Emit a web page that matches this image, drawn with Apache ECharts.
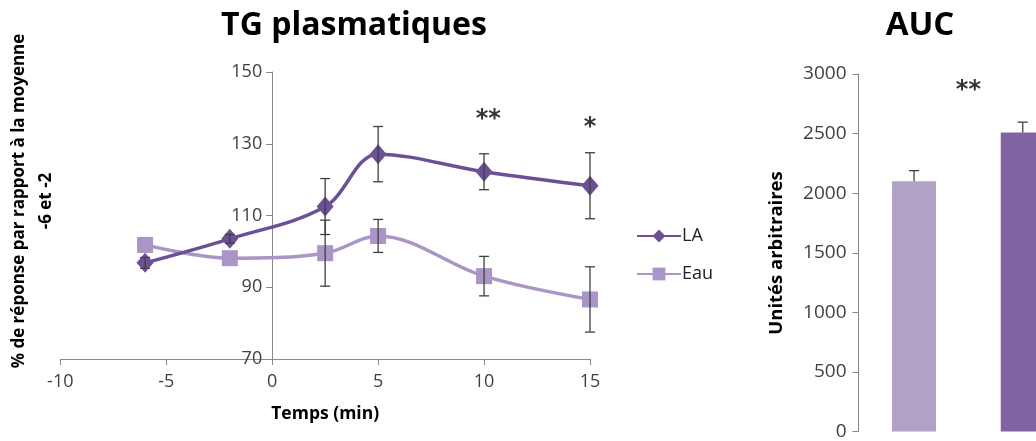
<!DOCTYPE html>
<html>
<head>
<meta charset="utf-8">
<script src="https://cdn.jsdelivr.net/npm/echarts@6/dist/echarts.min.js"></script>
<style>
  html, body { margin: 0; padding: 0; background: #fff; }
  #chart { width: 1036px; height: 441px; }
</style>
</head>
<body>
<div id="chart"></div>
<script>
// temps (min)
const times = [-6, -2, 2.5, 5, 10, 15]
// LA : moyenne et erreur
const laMean = [96.8, 103.5, 112.5, 127.1, 122.2, 118.3]
const laErr = [1.5, 1.2, 7.8, 7.7, 5.0, 9.2]
// Eau : moyenne et erreur
const eauMean = [101.8, 98.1, 99.5, 104.3, 93.1, 86.6]
const eauErr = [0, 0, 9.2, 4.6, 5.5, 9.1]
// AUC (position 1 = Eau, 2 = LA)
const aucGroups = ['Eau', 'LA']
const aucPos = [1, 2]
const aucMean = [2099, 2509]
const aucErr = [90, 87]
// étoiles de significativité
const starsLine = [[10.2, 136.7, '**'], [15, 134.5, '*']]
const starsAuc = [[1.5, 2860, '**']]

const laColor = '#6c5096'
const eauColor = '#a995c6'
const barColors = ['#b1a1c7', '#8064a2']
const errColor = '#404040'
const font = 'Open Sans'

let chart = echarts.init(document.getElementById('chart'))

// barres d'erreur
function errBars(caps, upOnly) {
  return function (params, api) {
    let x = api.value(0)
    let y = api.value(1)
    let e = api.value(2)
    if (!e) return
    let top = api.coord([x, y + e])
    let bot = api.coord([x, upOnly ? y : y - e])
    let st = { stroke: errColor, lineWidth: 1.3 }
    let c = []
    c.push({ type: 'line', shape: { x1: top[0], y1: top[1], x2: bot[0], y2: bot[1] }, style: st })
    c.push({ type: 'line', shape: { x1: top[0] - caps, y1: top[1], x2: top[0] + caps, y2: top[1] }, style: st })
    if (!upOnly) {
      c.push({ type: 'line', shape: { x1: bot[0] - caps, y1: bot[1], x2: bot[0] + caps, y2: bot[1] }, style: st })
    }
    return { type: 'group', children: c }
  }
}

const axisLineStyle = { color: '#888888', width: 1 }

let options = {
  animation: false,
  textStyle: { fontFamily: font },
  graphic: [
    { type: 'text', x: 354, y: 26, style: { text: 'TG plasmatiques', font: 'bold 32px "Open Sans"', fill: '#000', textAlign: 'center', textVerticalAlign: 'middle' } },
    { type: 'text', x: 920, y: 26, style: { text: 'AUC', font: 'bold 33px "Open Sans"', fill: '#000', textAlign: 'center', textVerticalAlign: 'middle' } },
    { type: 'text', x: 33, y: 201, rotation: Math.PI / 2, style: { text: '% de réponse par rapport à la moyenne\n-6 et -2', font: 'bold 17px "Open Sans"', lineHeight: 27, fill: '#000', textAlign: 'center', textVerticalAlign: 'middle' } },
    { type: 'text', x: 777, y: 253, rotation: Math.PI / 2, style: { text: 'Unités arbitraires', font: 'bold 18.5px "Open Sans"', fill: '#000', textAlign: 'center', textVerticalAlign: 'middle' } }
  ],
  legend: {
    orient: 'vertical',
    left: 631,
    top: 222,
    itemGap: 20,
    itemWidth: 44,
    itemHeight: 16,
    textStyle: { color: '#222', fontSize: 18, fontFamily: font, padding: [0, 0, 0, -4] },
    data: ['LA', 'Eau']
  },
  grid: [
    { left: 60.3, top: 72, width: 529.7, height: 287 },
    // la grille est coupée au bord droit de l'image
    { left: 858.5, top: 74, right: 0, height: 358.7 }
  ],
  xAxis: [
    {
      gridIndex: 0, type: 'value', min: -10, max: 15, interval: 5,
      name: 'Temps (min)', nameLocation: 'middle', nameGap: 46,
      nameTextStyle: { fontSize: 17.5, fontWeight: 'bold', color: '#000', fontFamily: font },
      axisLine: { show: true, onZero: false, lineStyle: axisLineStyle },
      axisTick: { show: true, inside: false, length: 6, lineStyle: axisLineStyle },
      axisLabel: { margin: 14, color: '#404040', fontSize: 18, fontFamily: font },
      splitLine: { show: false }
    },
    {
      gridIndex: 1, type: 'value', min: 0.489, max: 0.489 + 177.5 / 108.7, show: false
    }
  ],
  yAxis: [
    {
      gridIndex: 0, type: 'value', min: 70, max: 150, interval: 20,
      offset: -211.9,
      axisLine: { show: true, onZero: false, lineStyle: axisLineStyle },
      axisTick: { show: true, inside: false, length: 6, lineStyle: axisLineStyle },
      axisLabel: { margin: 10, color: '#404040', fontSize: 18, fontFamily: font },
      splitLine: { show: false }
    },
    {
      gridIndex: 1, type: 'value', min: 0, max: 3000, interval: 500,
      axisLine: { show: true, lineStyle: axisLineStyle },
      axisTick: { show: true, inside: false, length: 6, lineStyle: axisLineStyle },
      axisLabel: { margin: 12, color: '#404040', fontSize: 19, fontFamily: font, formatter: v => String(v) },
      splitLine: { show: false }
    }
  ],
  series: [
    {
      name: 'Eau', type: 'line', xAxisIndex: 0, yAxisIndex: 0,
      data: times.map((t, i) => [t, eauMean[i]]),
      smooth: 0.35,
      symbol: 'rect', symbolSize: 16,
      lineStyle: { color: eauColor, width: 3.5 },
      itemStyle: { color: eauColor },
      z: 3
    },
    {
      name: 'LA', type: 'line', xAxisIndex: 0, yAxisIndex: 0,
      data: times.map((t, i) => [t, laMean[i]]),
      smooth: 0.35,
      symbol: 'diamond', symbolSize: [17, 20],
      lineStyle: { color: laColor, width: 3.5 },
      itemStyle: { color: laColor },
      z: 4
    },
    {
      type: 'custom', xAxisIndex: 0, yAxisIndex: 0,
      renderItem: errBars(5, false),
      data: times.map((t, i) => [t, eauMean[i], eauErr[i]]),
      z: 5
    },
    {
      type: 'custom', xAxisIndex: 0, yAxisIndex: 0,
      renderItem: errBars(5, false),
      data: times.map((t, i) => [t, laMean[i], laErr[i]]),
      z: 5
    },
    {
      type: 'scatter', xAxisIndex: 0, yAxisIndex: 0, symbolSize: 0,
      data: starsLine.map(s => ({ value: [s[0], s[1]], label: { formatter: s[2] } })),
      label: { show: true, position: 'inside', fontSize: 24, fontWeight: 'bold', color: '#000', fontFamily: 'DejaVu Sans' }
    },
    {
      type: 'bar', xAxisIndex: 1, yAxisIndex: 1, barWidth: 44,
      data: aucMean.map((v, i) => ({ value: [aucPos[i], v], name: aucGroups[i], itemStyle: { color: barColors[i] } }))
    },
    {
      type: 'custom', xAxisIndex: 1, yAxisIndex: 1,
      renderItem: errBars(5, true),
      data: aucMean.map((v, i) => [aucPos[i], v, aucErr[i]]),
      z: 5
    },
    {
      type: 'scatter', xAxisIndex: 1, yAxisIndex: 1, symbolSize: 0,
      data: starsAuc.map(s => ({ value: [s[0], s[1]], label: { formatter: s[2] } })),
      label: { show: true, position: 'inside', fontSize: 24, fontWeight: 'bold', color: '#000', fontFamily: 'DejaVu Sans' }
    }
  ]
}

chart.setOption(options)
</script>
</body>
</html>
